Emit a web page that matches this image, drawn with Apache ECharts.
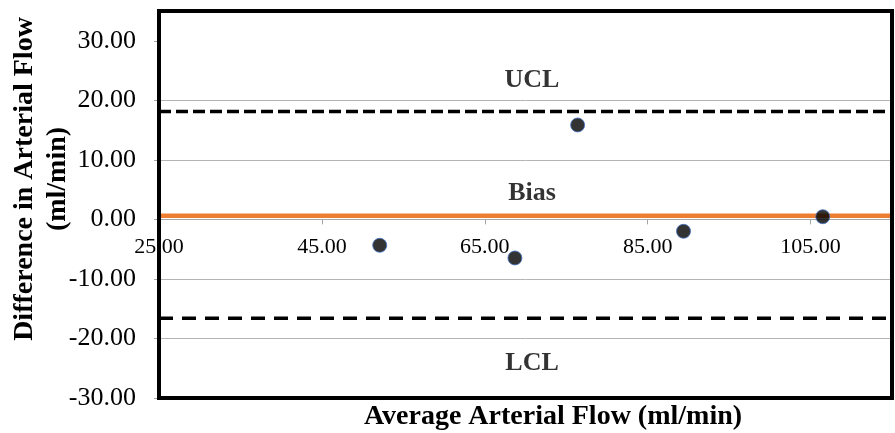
<!DOCTYPE html>
<html>
<head>
<meta charset="utf-8">
<script src="https://cdn.jsdelivr.net/npm/echarts@6/dist/echarts.min.js"></script>
<style>html,body{margin:0;padding:0;background:#fff}#c{width:895px;height:433px}</style>
</head>
<body>
<div id="c"></div>
<script>
// Data
const avgFlow = [52.1, 68.7, 76.4, 89.4, 106.5];
const diffFlow = [-4.35, -6.48, 15.86, -2.0, 0.45];
const bias = 0.6;
const ucl = 18.1;
const lcl = -16.6;
const xTicks = [25, 45, 65, 85, 105];
const yTicks = [-30, -20, -10, 0, 10, 20, 30];
const annotText = ['UCL', 'Bias', 'LCL'];
const annotX = [70.8, 70.8, 70.8];
const annotY = [23.3, 4.4, -24.1];
const xMin = 25, xMax = 115, yMin = -30, yMax = 35;

const FONT = '"Liberation Serif", "Times New Roman", serif';
const W = 895, H = 433;
const G = {left: 159, right: 3, top: 11, bottom: 35};
// The horizontal axis crosses the vertical axis at y = 0: place a second grid whose bottom edge sits there.
const plotH = H - G.top - G.bottom;
const zeroY = G.top + (yMax - 0) / (yMax - yMin) * plotH;

const chart = echarts.init(document.getElementById('c'), null, {renderer: 'canvas'});

chart.setOption({
  animation: false,
  backgroundColor: '#fff',
  grid: [
    {left: G.left, right: G.right, top: G.top, bottom: G.bottom, show: true, borderColor: '#000', borderWidth: 4, backgroundColor: 'transparent', z: 10},
    {left: G.left, right: G.right, top: G.top, bottom: H - zeroY, show: false}
  ],
  xAxis: [
    {
      type: 'value', gridIndex: 0, min: xMin, max: xMax, interval: 20,
      axisLine: {show: false}, axisTick: {show: false}, axisLabel: {show: false}, splitLine: {show: false}
    },
    {
      type: 'value', gridIndex: 1, min: xMin, max: xMax, interval: 20, position: 'bottom',
      axisLine: {show: true, onZero: false, lineStyle: {color: '#a6a6a6', width: 1}},
      axisTick: {show: true, customValues: xTicks, length: 5, lineStyle: {color: '#a6a6a6'}},
      axisLabel: {customValues: xTicks, margin: 17, fontFamily: FONT, fontSize: 22, color: '#000',
        formatter: v => v.toFixed(2)},
      splitLine: {show: false}
    }
  ],
  yAxis: [
    {
      type: 'value', gridIndex: 0, min: yMin, max: yMax, interval: 10,
      axisLine: {show: false},
      axisTick: {show: true, customValues: yTicks, length: 5, lineStyle: {color: '#a6a6a6'}},
      axisLabel: {customValues: yTicks, margin: 23, fontFamily: FONT, fontSize: 26, color: '#000',
        formatter: v => v.toFixed(2)},
      splitLine: {show: true, showMinLine: false, showMaxLine: false, lineStyle: {color: '#b4b4b4', width: 1}}
    },
    {
      type: 'value', gridIndex: 1, min: 0, max: yMax, show: false
    }
  ],
  graphic: [
    {type: 'text', x: 553, y: 417, style: {text: 'Average Arterial Flow (ml/min)', font: 'bold 28px ' + FONT, fill: '#000', textAlign: 'center', textVerticalAlign: 'middle'}},
    {type: 'text', x: 41, y: 179, rotation: Math.PI / 2, style: {text: 'Difference in Arterial Flow\n(ml/min)', font: 'bold 28px ' + FONT, lineHeight: 33, fill: '#000', align: 'center', verticalAlign: 'middle', textAlign: 'center', textVerticalAlign: 'middle'}}
  ],
  series: [
    {
      type: 'line', symbol: 'none', silent: true, z: 3,
      data: [[xMin, bias], [xMax, bias]],
      lineStyle: {color: '#ED7D31', width: 4.5}
    },
    {
      type: 'line', symbol: 'none', silent: true, z: 3,
      data: [[xMin, ucl], [xMax, ucl]],
      lineStyle: {color: '#000', width: 3.5, type: [12, 5]}
    },
    {
      type: 'line', symbol: 'none', silent: true, z: 3,
      data: [[xMin, lcl], [xMax, lcl]],
      lineStyle: {color: '#000', width: 3.5, type: [14, 9]}
    },
    {
      type: 'scatter', z: 5, symbolSize: 14,
      itemStyle: {color: '#000', borderColor: '#4472C4', borderWidth: 1},
      data: avgFlow.map((x, i) => [x, diffFlow[i]])
    },
    {
      type: 'scatter', symbolSize: 0, silent: true, z: 6,
      data: annotText.map((t, i) => ({value: [annotX[i], annotY[i]], name: t})),
      label: {show: true, position: 'inside', formatter: p => p.name, fontFamily: FONT, fontWeight: 'bold', fontSize: 26, color: '#000'}
    }
  ]
});
</script>
</body>
</html>
